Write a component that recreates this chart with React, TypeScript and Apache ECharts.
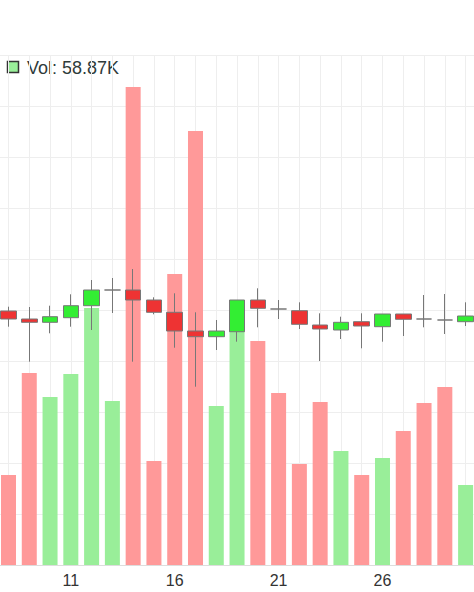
import React, { useEffect, useRef } from 'react';
import * as echarts from 'echarts';

const categories = ['8', '9', '10', '11', '12', '13', '14', '15', '16', '17', '18', '19', '20', '21', '22', '23', '24', '25', '26', '27', '28', '29', '30'];

// [open, close, low, high]
const ohlc = [
  [25.4, 24.6, 23.83, 25.83],
  [24.6, 24.27, 20.33, 25.8],
  [24.27, 24.83, 23.17, 25.93],
  [24.73, 25.93, 23.83, 27.07],
  [25.93, 27.5, 23.5, 28.5],
  [27.5, 27.5, 25.2, 28.7],
  [27.5, 26.5, 20.33, 29.6],
  [26.5, 25.27, 25.07, 26.77],
  [25.27, 23.4, 21.73, 27.17],
  [23.4, 22.83, 17.83, 25.27],
  [22.83, 23.4, 21.5, 24.5],
  [23.33, 26.5, 22.33, 26.5],
  [26.5, 25.67, 23.77, 27.67],
  [25.6, 25.6, 24.6, 26.5],
  [25.43, 24.07, 23.6, 26.27],
  [24.0, 23.6, 20.4, 25.17],
  [23.5, 24.27, 22.6, 24.83],
  [24.33, 23.9, 21.67, 25.17],
  [23.83, 25.1, 22.33, 25.1],
  [25.1, 24.57, 22.9, 25.1],
  [24.6, 24.6, 23.77, 27.0],
  [24.5, 24.5, 23.1, 27.1],
  [24.33, 24.9, 23.9, 26.27],
];

const volumes = [66200, 141200, 123500, 140400, 189000, 120600, 351500, 76500, 214000, 319100, 116900, 194100, 164700, 126500, 74300, 119900, 83800, 66200, 78700, 98500, 119100, 130900, 58870];

const volDir = ['d', 'd', 'u', 'u', 'u', 'u', 'd', 'd', 'd', 'd', 'u', 'u', 'd', 'd', 'd', 'd', 'u', 'd', 'u', 'd', 'd', 'd', 'u'];

const FONT = '"Liberation Sans", Arial, sans-serif';

export default function App() {
  const ref = useRef<HTMLDivElement>(null);
  useEffect(() => {
    const chart = echarts.init(ref.current!, null, { renderer: 'svg' });
    const lastVol = volumes[volumes.length - 1];
    chart.setOption({
      animation: false,
      textStyle: { fontFamily: FONT },
      grid: [
        { left: 0, right: 0, top: 55, bottom: 27 },
        { left: 8.5, right: 8.4, top: 55, bottom: 27 },
      ],
      xAxis: [
        {
          type: 'value', gridIndex: 0, position: 'top', min: 0, max: 1,
          axisLine: { show: true, lineStyle: { color: '#dddddd' } },
          axisTick: { show: false }, axisLabel: { show: false }, splitLine: { show: false },
        },
        {
          type: 'category', gridIndex: 1, data: categories, boundaryGap: false,
          axisLine: { show: false }, axisTick: { show: false },
          axisLabel: {
            interval: (_i: number, v: string) => (Number(v) - 1) % 5 === 0,
            color: '#333', fontSize: 16, margin: 7, fontFamily: FONT,
          },
          splitLine: { show: true, interval: 0, lineStyle: { color: '#eeeeee' } },
        },
      ],
      yAxis: [
        {
          type: 'value', gridIndex: 0, min: 0, max: 10, interval: 1,
          axisLine: { show: false }, axisTick: { show: false }, axisLabel: { show: false },
          splitLine: { show: true, lineStyle: { color: '#eeeeee' } },
        },
        { type: 'value', gridIndex: 1, min: 0, max: 51, show: false },
        { type: 'value', gridIndex: 1, min: 0, max: 375000, show: false },
      ],
      graphic: [
        {
          type: 'rect', shape: { x: 7.5, y: 61.5, width: 11, height: 11 },
          style: { fill: '#99ee99', stroke: '#333', lineWidth: 1.5 },
        },
        {
          type: 'text', x: 27, y: 68,
          style: {
            text: 'Vol: ' + (lastVol / 1000).toFixed(2) + 'K',
            fontSize: 18, fontFamily: FONT, fill: '#2f3b3b', verticalAlign: 'middle',
          },
        },
      ],
      series: [
        {
          type: 'bar', xAxisIndex: 1, yAxisIndex: 2, barWidth: 15, clip: false,
          data: volumes.map((v, i) => ({
            value: v,
            itemStyle: { color: volDir[i] === 'u' ? '#99ee99' : '#ff9999' },
          })),
        },
        {
          type: 'candlestick', xAxisIndex: 1, yAxisIndex: 1, barWidth: 16, clip: false,
          data: ohlc,
          itemStyle: {
            color: '#33ee33', color0: '#ee3333',
            borderColor: '#777777', borderColor0: '#777777', borderColorDoji: '#777777',
            borderWidth: 1,
          },
        },
      ],
    });
    return () => chart.dispose();
  }, []);
  return <div ref={ref} style={{ position: 'absolute', left: 0, top: 0, width: 474, height: 592 }} />;
}
